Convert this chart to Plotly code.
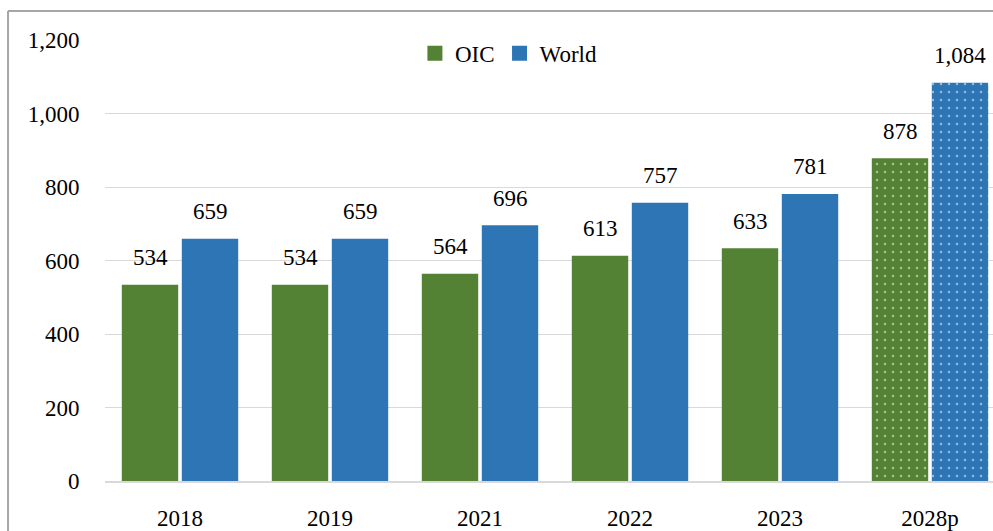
import plotly.graph_objects as go

# Categories and series values (US$ billion)
years = ["2018", "2019", "2021", "2022", "2023", "2028p"]
oic = [534, 534, 564, 613, 633, 878]
world = [659, 659, 696, 757, 781, 1084]
projected = [False, False, False, False, False, True]
y_ticks = [0, 200, 400, 600, 800, 1000, 1200]

GREEN = "#548235"
BLUE = "#2e75b6"
FONT = "Liberation Serif"
FS = 23

x_idx = list(range(len(years)))


def dotted(flags):
    return [("." if f else "") for f in flags]


fig = go.Figure()
for name, vals, color in (("OIC", oic, GREEN), ("World", world, BLUE)):
    fig.add_trace(go.Bar(
        x=x_idx, y=vals, name=name, showlegend=False,
        marker=dict(
            color=color,
            line=dict(width=0),
            pattern=dict(shape=dotted(projected), fgcolor="white",
                         bgcolor=color, size=8, solidity=0.08,
                         fillmode="overlay"),
        ),
        hoverinfo="skip",
    ))
    # Legend entry with a larger square swatch
    fig.add_trace(go.Scatter(
        x=[None], y=[None], mode="markers", name=name,
        marker=dict(symbol="square", size=15, color=color),
        hoverinfo="skip",
    ))

# Value labels above each bar
slot = 0.2
for vals, off in ((oic, -slot), (world, slot)):
    for i, v in enumerate(vals):
        fig.add_annotation(
            x=i + off, y=v, xref="x", yref="y",
            text=f"{v:,}", showarrow=False,
            yanchor="middle", yshift=27,
            font=dict(family=FONT, size=FS, color="#000000"),
        )

# Outer frame lines (left and top edges)
frame = dict(color="#a6a6a6", width=2)
fig.add_shape(type="line", xref="paper", yref="paper",
              x0=-0.1092, x1=-0.1092, y0=-0.2, y1=1.0658, line=frame)
fig.add_shape(type="line", xref="paper", yref="paper",
              x0=-0.1092, x1=1.05, y0=1.0658, y1=1.0658, line=frame)

fig.update_layout(
    width=993, height=531,
    margin=dict(l=105, r=0, t=40, b=50),
    paper_bgcolor="white", plot_bgcolor="white",
    barmode="group", bargap=0.2, bargroupgap=0.06,
    font=dict(family=FONT, size=FS, color="#000000"),
    showlegend=True,
    legend=dict(orientation="h", x=0.349, xanchor="left",
                y=0.97, yanchor="middle",
                font=dict(family=FONT, size=FS),
                bgcolor="rgba(0,0,0,0)", itemwidth=30),
    xaxis=dict(
        tickmode="array", tickvals=x_idx, ticktext=years,
        range=[-0.5, 5.42], showgrid=False,
        showline=True, linecolor="#d9d9d9", linewidth=1.5,
        ticks="outside", ticklen=16, tickcolor="rgba(0,0,0,0)",
        zeroline=False, fixedrange=True,
    ),
    yaxis=dict(
        range=[0, 1200], tickvals=y_ticks, tickformat=",",
        showgrid=True, gridcolor="#d9d9d9", gridwidth=1.3,
        zeroline=False, showline=False,
        ticks="outside", ticklen=20, tickcolor="rgba(0,0,0,0)",
        fixedrange=True,
    ),
)

fig.write_html("out.html", config={"displayModeBar": False})
